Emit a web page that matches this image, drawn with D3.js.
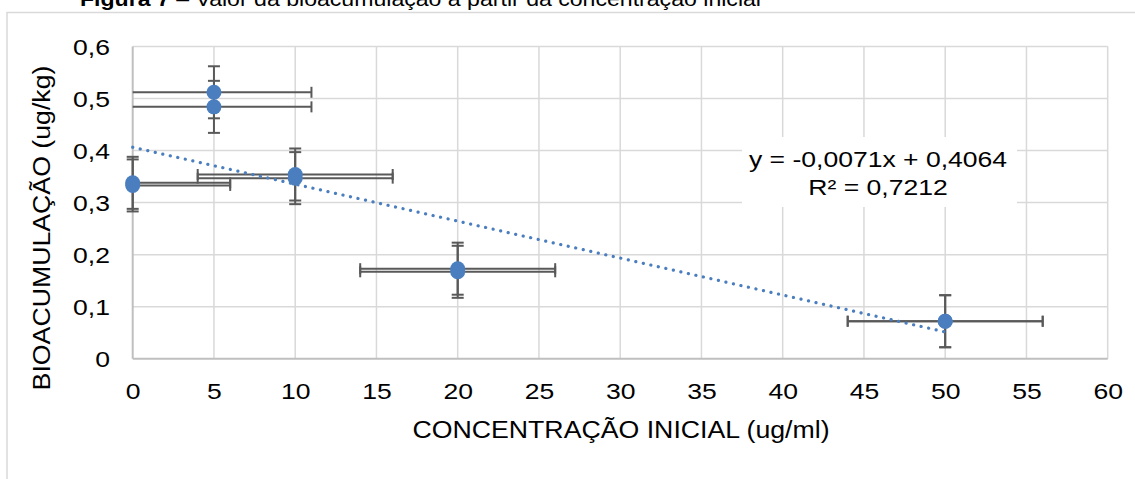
<!DOCTYPE html>
<html>
<head>
<meta charset="utf-8">
<script src="https://cdn.jsdelivr.net/npm/d3@7"></script>
<style>
  body { margin: 0; background: #fff; }
  text { font-family: "Liberation Sans", Arial, sans-serif; fill: #000; }
</style>
</head>
<body>
<div id="chart"></div>
<script>
// values: two replicates per concentration
const xValues = [0, 0, 5, 5, 10, 10, 20, 20, 50, 50];
const yValues = [0.338, 0.333, 0.512, 0.484, 0.354, 0.347, 0.173, 0.167, 0.072, 0.072];
const xErrors = [6, 6, 6, 6, 6, 6, 6, 6, 6, 6];
const yErrors = [0.05, 0.05, 0.05, 0.05, 0.05, 0.05, 0.05, 0.05, 0.05, 0.05];

const xTicks = [0, 5, 10, 15, 20, 25, 30, 35, 40, 45, 50, 55, 60];
const yTicks = [0, 0.1, 0.2, 0.3, 0.4, 0.5, 0.6];
const yTickLabels = ["0", "0,1", "0,2", "0,3", "0,4", "0,5", "0,6"];

const trendSlope = -0.0071;
const trendIntercept = 0.4064;
const trendRange = [0, 50];
const equationLines = ["y = -0,0071x + 0,4064", "R² = 0,7212"];

const titleBold = "Figura 7";
const titleRest = " – Valor da bioacumulação a partir da concentração inicial";
const xTitle = "CONCENTRAÇÃO INICIAL (ug/ml)";
const yTitle = "BIOACUMULAÇÃO (ug/kg)";

function renderChart() {
    const width = 1135, height = 479;
    const plot = { left: 132.7, right: 1107.7, top: 46.5, bottom: 358.7 };
    const stretch = 1.18;
    const blue = "#4a7ebf";
    const barColor = "#595959";

    const svg = d3.select("#chart").append("svg")
        .attr("width", width)
        .attr("height", height);

    svg.append("rect")
        .attr("width", width)
        .attr("height", height)
        .attr("fill", "#fff");

    // chart frame, runs off the right and bottom edge
    svg.append("rect")
        .attr("x", 7).attr("y", 12.5)
        .attr("width", width + 20).attr("height", height + 20)
        .attr("fill", "none")
        .attr("stroke", "#d9d9d9")
        .attr("stroke-width", 1.5);

    const title = svg.append("text")
        .attr("transform", `scale(1.1,1)`)
        .attr("x", 80 / 1.1)
        .attr("y", 6)
        .style("font-size", "21px");
    title.append("tspan").style("font-weight", "bold").text(titleBold);
    title.append("tspan").text(titleRest);

    const x = d3.scaleLinear().domain([0, 60]).range([plot.left, plot.right]);
    const y = d3.scaleLinear().domain([0, 0.6]).range([plot.bottom, plot.top]);

    // gridlines
    svg.append("g").selectAll("line")
        .data(yTicks.filter(d => d > 0))
        .enter().append("line")
            .attr("x1", plot.left).attr("x2", plot.right)
            .attr("y1", d => y(d)).attr("y2", d => y(d))
            .attr("stroke", "#d9d9d9")
            .attr("stroke-width", 1.5);

    svg.append("g").selectAll("line")
        .data(xTicks.filter(d => d > 0))
        .enter().append("line")
            .attr("x1", d => x(d)).attr("x2", d => x(d))
            .attr("y1", plot.top).attr("y2", plot.bottom)
            .attr("stroke", "#d9d9d9")
            .attr("stroke-width", 1.5);

    // axes
    const xAxis = svg.append("g")
        .attr("transform", `translate(0,${plot.bottom})`)
        .call(d3.axisBottom(x).tickValues(xTicks).tickSize(0).tickFormat(d => String(d)));
    xAxis.select(".domain").remove();
    xAxis.selectAll("text")
        .attr("y", 40.5)
        .attr("dy", null)
        .attr("transform", `scale(${stretch},1)`)
        .style("font-size", "22.5px")
        .attr("fill", "#000");

    const yAxis = svg.append("g")
        .attr("transform", `translate(${plot.left},0)`)
        .call(d3.axisLeft(y).tickValues(yTicks).tickSize(0).tickFormat((d, i) => yTickLabels[i]));
    yAxis.select(".domain").remove();
    yAxis.selectAll("text")
        .attr("x", -22.7 / stretch)
        .attr("dy", "0.36em")
        .attr("transform", `scale(${stretch},1)`)
        .style("font-size", "22.5px")
        .attr("fill", "#000");

    svg.append("line")
        .attr("x1", plot.left).attr("x2", plot.right)
        .attr("y1", plot.bottom).attr("y2", plot.bottom)
        .attr("stroke", "#bfbfbf").attr("stroke-width", 2);
    svg.append("line")
        .attr("x1", plot.left).attr("x2", plot.left)
        .attr("y1", plot.top).attr("y2", plot.bottom)
        .attr("stroke", "#bfbfbf").attr("stroke-width", 2);

    // axis titles
    svg.append("text")
        .attr("transform", `translate(621,438) scale(1.09,1)`)
        .attr("text-anchor", "middle")
        .style("font-size", "24.5px")
        .text(xTitle);

    svg.append("text")
        .attr("transform", `translate(50,228) rotate(-90) scale(1.09,1)`)
        .attr("text-anchor", "middle")
        .style("font-size", "24.5px")
        .text(yTitle);

    // error bars
    const points = xValues.map((d, i) => ({ x: d, y: yValues[i], ex: xErrors[i], ey: yErrors[i] }));
    const bars = svg.append("g")
        .attr("stroke", barColor)
        .attr("stroke-width", 2)
        .attr("fill", "none");

    points.forEach(p => {
        const lo = Math.max(0, p.x - p.ex), hi = Math.min(60, p.x + p.ex);
        const py = y(p.y);
        bars.append("line")
            .attr("x1", x(lo)).attr("x2", x(hi))
            .attr("y1", py).attr("y2", py);
        [p.x - p.ex, p.x + p.ex].forEach(v => {
            if (v < 0 || v > 60) return;
            bars.append("line")
                .attr("x1", x(v)).attr("x2", x(v))
                .attr("y1", py - 5.5).attr("y2", py + 5.5);
        });
        const px = x(p.x);
        bars.append("line")
            .attr("x1", px).attr("x2", px)
            .attr("y1", y(p.y - p.ey)).attr("y2", y(p.y + p.ey));
        [p.y - p.ey, p.y + p.ey].forEach(v => {
            bars.append("line")
                .attr("x1", px - 6).attr("x2", px + 6)
                .attr("y1", y(v)).attr("y2", y(v));
        });
    });

    svg.append("g").selectAll("circle")
        .data(points)
        .enter().append("circle")
            .attr("cx", d => x(d.x))
            .attr("cy", d => y(d.y))
            .attr("r", 7.5)
            .attr("fill", blue);

    // linear trendline, dotted
    const line = d3.line().x(d => x(d)).y(d => y(trendSlope * d + trendIntercept));
    svg.append("path")
        .datum(trendRange)
        .attr("d", line)
        .attr("fill", "none")
        .attr("stroke", blue)
        .attr("stroke-width", 3.2)
        .attr("stroke-linecap", "round")
        .attr("stroke-dasharray", "0.1 7.6");

    // equation label
    svg.append("rect")
        .attr("x", 742).attr("y", 137)
        .attr("width", 275).attr("height", 70)
        .attr("fill", "#fff");

    svg.append("g").selectAll("text")
        .data(equationLines)
        .enter().append("text")
            .attr("transform", (d, i) => `translate(878,${167.3 + i * 28}) scale(${stretch},1)`)
            .attr("text-anchor", "middle")
            .style("font-size", "22.5px")
            .text(d => d);
}
renderChart();
</script>
</body>
</html>
